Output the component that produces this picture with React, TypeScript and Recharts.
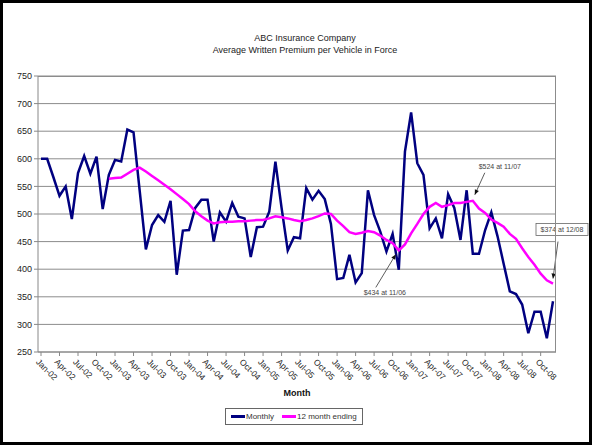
import React from 'react';
import {
  LineChart,
  Line,
  XAxis,
  YAxis,
  CartesianGrid,
  ReferenceDot,
} from 'recharts';

const monthNames = ['Jan', 'Feb', 'Mar', 'Apr', 'May', 'Jun', 'Jul', 'Aug', 'Sep', 'Oct', 'Nov', 'Dec'];
const years = ['02', '03', '04', '05', '06', '07', '08'];

const monthly = [
  600, 600, 567, 533, 550, 491, 574, 605, 573, 604, 509, 571,
  598, 595, 653, 648, 542, 436, 480, 498, 486, 524, 390, 470,
  471, 511, 526, 526, 450, 503, 486, 520, 495, 492, 422, 476,
  477, 504, 595, 511, 434, 458, 456, 547, 526, 542, 527, 482,
  382, 384, 426, 376, 393, 543, 498, 468, 432, 464, 399, 613,
  684, 592, 571, 474, 492, 456, 536, 511, 453, 543, 428, 428,
  471, 503, 460, 410, 360, 355, 336, 284, 323, 323, 275, 342,
];

const rolling12 = [
  null, null, null, null, null, null, null, null, null, null, null, 564,
  565, 566, 573, 580, 584, 577, 569, 561, 553, 545, 536, 527,
  518, 505, 496, 488, 483, 485, 486, 486, 487, 487, 488, 489,
  489, 492, 496, 494, 492, 489, 487, 489, 492, 496, 501, 500,
  488, 478, 467, 464, 466, 469, 467, 461, 453, 447, 434, 445,
  465, 482, 500, 513, 520, 513, 516, 520, 520, 522, 524, 510,
  502, 490, 484, 477, 464, 455, 438, 422, 408, 392, 380, 374,
];

const yTicks = [250, 300, 350, 400, 450, 500, 550, 600, 650, 700, 750];

const months = years.flatMap((yr) => monthNames.map((m) => `${m}-${yr}`));

const data = months.map((month, i) => ({
  month,
  monthly: monthly[i],
  rolling: rolling12[i],
}));

const FONT = '"Liberation Sans", Arial, sans-serif';

const MonthTick = (props: any) => {
  const { x, y, payload } = props;
  return (
    <text
      transform={`translate(${x - 1},${y}) rotate(45)`}
      textAnchor="start"
      dominantBaseline="hanging"
      fontSize={8.5}
      fontFamily={FONT}
      fill="#222"
    >
      {payload.value}
    </text>
  );
};

function arrowHead(x1: number, y1: number, x2: number, y2: number) {
  const a = Math.atan2(y2 - y1, x2 - x1);
  const len = 5;
  const w = 2.2;
  const bx = x2 - len * Math.cos(a);
  const by = y2 - len * Math.sin(a);
  const px = -Math.sin(a) * w;
  const py = Math.cos(a) * w;
  return `${x2},${y2} ${bx + px},${by + py} ${bx - px},${by - py}`;
}

// callout drawn relative to the data point
const makeCallout = (
  text: string,
  tx: number,
  ty: number,
  l1: [number, number],
  l2: [number, number],
  boxed = false
) => (props: any) => {
  const { cx, cy } = props;
  const x1 = cx + l1[0];
  const y1 = cy + l1[1];
  const x2 = cx + l2[0];
  const y2 = cy + l2[1];
  return (
    <g>
      <line x1={x1} y1={y1} x2={x2} y2={y2} stroke="#333" strokeWidth={0.8} />
      <polygon points={arrowHead(x1, y1, x2, y2)} fill="#111" />
      {boxed && (
        <rect x={cx + tx - 26} y={cy + ty - 6} width={52} height={12} fill="#fff" stroke="#666" strokeWidth={0.8} />
      )}
      <text
        x={cx + tx}
        y={cy + ty}
        textAnchor="middle"
        dominantBaseline="central"
        fontSize={7}
        fontFamily={FONT}
        fill="#444"
      >
        {text}
      </text>
    </g>
  );
};

export default function App() {
  return (
    <div
      style={{
        position: 'absolute',
        left: 0,
        top: 0,
        width: 592,
        height: 445,
        boxSizing: 'border-box',
        border: '3px solid #000',
        background: '#fff',
        fontFamily: FONT,
      }}
    >
      <div
        style={{
          position: 'absolute',
          left: 0,
          top: 29,
          width: 604,
          textAlign: 'center',
          fontSize: 9,
          lineHeight: '12px',
          color: '#222',
        }}
      >
        <div>ABC Insurance Company</div>
        <div>Average Written Premium per Vehicle in Force</div>
      </div>

      <div style={{ position: 'absolute', left: -3, top: -3 }}>
        <LineChart
          width={592}
          height={445}
          data={data}
          margin={{ top: 76, right: 36, bottom: 55, left: 0 }}
        >
          <CartesianGrid vertical={false} stroke="#8c8c8c" strokeWidth={1} />
          <XAxis
            dataKey="month"
            interval={2}
            padding={{ left: 3, right: 3 }}
            height={38}
            tick={<MonthTick />}
            tickSize={4}
            stroke="#888"
            label={{
              value: 'Month',
              position: 'bottom',
              offset: 0,
              fontSize: 9,
              fontWeight: 'bold',
              fontFamily: FONT,
              fill: '#111',
            }}
          />
          <YAxis
            domain={[250, 750]}
            ticks={yTicks}
            width={38}
            tickSize={4}
            stroke="#888"
            tick={{ fontSize: 9, fontFamily: FONT, fill: '#222' }}
          />
          <Line
            type="linear"
            dataKey="monthly"
            stroke="#000080"
            strokeWidth={2.5}
            dot={false}
            isAnimationActive={false}
          />
          <Line
            type="linear"
            dataKey="rolling"
            stroke="#ff00ff"
            strokeWidth={2.5}
            dot={false}
            connectNulls={false}
            isAnimationActive={false}
          />
          <ReferenceDot
            x="Nov-06"
            y={434}
            ifOverflow="visible"
            shape={makeCallout('$434 at 11/06', -14, 42, [-23, 37], [-3, 4])}
          />
          <ReferenceDot
            x="Nov-07"
            y={524}
            ifOverflow="visible"
            shape={makeCallout('$524 at 11/07', 27, -34, [12, -28], [2, -6])}
          />
          <ReferenceDot
            x="Dec-08"
            y={374}
            ifOverflow="visible"
            shape={makeCallout('$374 at 12/08', 9, -54, [5, -42], [0, -5], true)}
          />
        </LineChart>
      </div>

      {/* plot area frame */}
      <div
        style={{
          position: 'absolute',
          left: 35,
          top: 73,
          width: 518,
          height: 276,
          boxSizing: 'border-box',
          borderTop: '1px solid #8c8c8c',
          borderRight: '1px solid #8c8c8c',
          pointerEvents: 'none',
        }}
      />

      {/* legend */}
      <div
        style={{
          position: 'absolute',
          left: 222,
          top: 405,
          height: 17,
          padding: '0 5px',
          boxSizing: 'border-box',
          border: '1px solid #666',
          display: 'flex',
          alignItems: 'center',
          fontSize: 8,
          color: '#333',
          whiteSpace: 'nowrap',
        }}
      >
        <span style={{ display: 'inline-block', width: 14, height: 2.5, background: '#000080', marginRight: 1 }} />
        <span style={{ marginRight: 8 }}>Monthly</span>
        <span style={{ display: 'inline-block', width: 14, height: 2.5, background: '#ff00ff', marginRight: 1 }} />
        <span>12 month ending</span>
      </div>
    </div>
  );
}
